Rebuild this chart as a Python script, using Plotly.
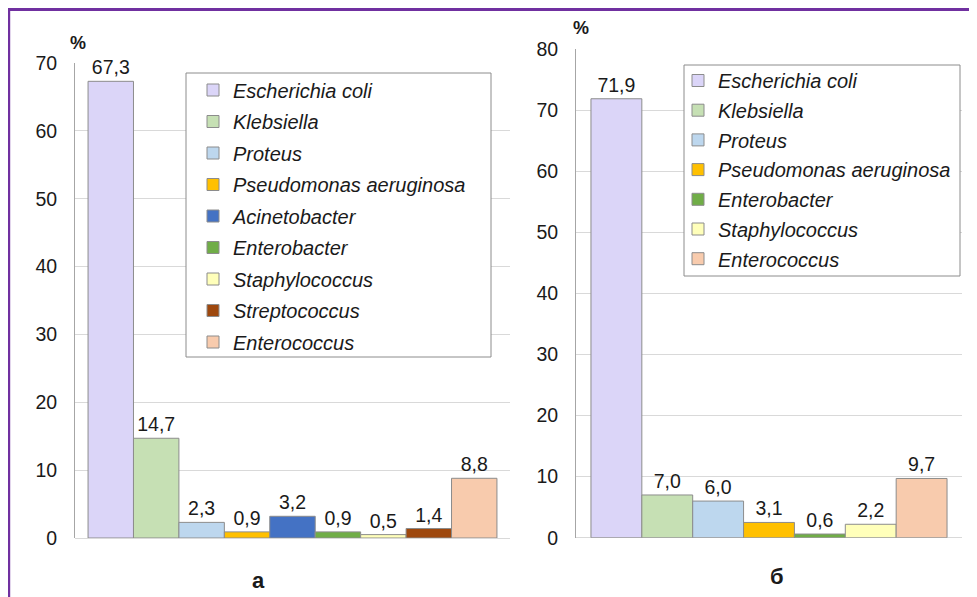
import plotly.graph_objects as go

# The page body has an 8px margin, so the figure is drawn 8px in and 8px down.
OFF = 8
W, H = 977 - OFF, 597 - OFF


def px(x):  # screen x pixel -> paper fraction
    return (x - OFF) / W


def py(y):  # screen y pixel -> paper fraction
    return (597 - y) / H


# ---- data ----
species_a = ["Escherichia coli", "Klebsiella", "Proteus", "Pseudomonas aeruginosa",
             "Acinetobacter", "Enterobacter", "Staphylococcus", "Streptococcus", "Enterococcus"]
values_a = [67.3, 14.7, 2.3, 0.9, 3.2, 0.9, 0.5, 1.4, 8.8]
labels_a = ["67,3", "14,7", "2,3", "0,9", "3,2", "0,9", "0,5", "1,4", "8,8"]

species_b = ["Escherichia coli", "Klebsiella", "Proteus", "Pseudomonas aeruginosa",
             "Enterobacter", "Staphylococcus", "Enterococcus"]
values_b = [71.9, 7.0, 6.0, 2.5, 0.6, 2.2, 9.7]
labels_b = ["71,9", "7,0", "6,0", "3,1", "0,6", "2,2", "9,7"]

colors = {
    "Escherichia coli": "#DBD5F8",
    "Klebsiella": "#C6E0B4",
    "Proteus": "#BDD7EE",
    "Pseudomonas aeruginosa": "#FFC000",
    "Acinetobacter": "#4472C4",
    "Enterobacter": "#70AD47",
    "Staphylococcus": "#FFFFBA",
    "Streptococcus": "#9E480E",
    "Enterococcus": "#F8CBAD",
}

panel_a_cat = ["а"]
panel_b_cat = ["б"]

FONT = "Liberation Sans, Arial, sans-serif"
TXT = "#1a1a1a"
EDGE = "#8C8C8C"
GRID = "#D9D9D9"

fig = go.Figure()

for name, v, lab in zip(species_a, values_a, labels_a):
    fig.add_trace(go.Bar(
        x=panel_a_cat, y=[v], name=name, text=[lab], textposition="outside",
        textfont=dict(size=19.5, color=TXT, family=FONT), cliponaxis=False,
        constraintext="none",
        marker=dict(color=colors[name], line=dict(color=EDGE, width=1)),
        xaxis="x", yaxis="y", legend="legend", legendgroup="a_" + name,
    ))

for name, v, lab in zip(species_b, values_b, labels_b):
    fig.add_trace(go.Bar(
        x=panel_b_cat, y=[v], name=name, text=[lab], textposition="outside",
        textfont=dict(size=19.5, color=TXT, family=FONT), cliponaxis=False,
        constraintext="none",
        marker=dict(color=colors[name], line=dict(color=EDGE, width=1)),
        xaxis="x2", yaxis="y2", legend="legend2", legendgroup="b_" + name,
    ))

yax_common = dict(
    showline=True, linecolor="#A6A6A6", linewidth=1,
    showgrid=True, gridcolor=GRID, gridwidth=1,
    zeroline=True, zerolinecolor=GRID, zerolinewidth=1,
    dtick=10, ticks="", ticklabelstandoff=13,
    tickfont=dict(size=19.5, color=TXT, family=FONT), fixedrange=True,
)
xax_common = dict(type="category", showticklabels=False, showgrid=False,
                  zeroline=False, showline=False, fixedrange=True)

legend_common = dict(
    bgcolor="rgba(0,0,0,0)", borderwidth=0,
    font=dict(size=20, color=TXT, family=FONT, style="italic"),
    xanchor="left", yanchor="top", traceorder="grouped",
)


def label(text, x, y, size):
    return dict(text=f"<b>{text}</b>", x=px(x), y=py(y), xref="paper", yref="paper",
                xanchor="center", yanchor="middle", showarrow=False,
                font=dict(size=size, color=TXT, family=FONT))


fig.update_layout(
    width=W, height=H,
    margin=dict(l=0, r=0, t=0, b=0, autoexpand=False),
    paper_bgcolor="white", plot_bgcolor="white",
    barmode="group", bargap=0.06, bargroupgap=0,
    font=dict(family=FONT, color=TXT),
    xaxis=dict(domain=[px(75), px(510)], range=[-0.5, 0.5], anchor="y", **xax_common),
    yaxis=dict(domain=[py(538), py(63)], range=[0, 70], anchor="x", **yax_common),
    xaxis2=dict(domain=[px(576), px(962)], range=[-0.5095, 0.5095], anchor="y2", **xax_common),
    yaxis2=dict(domain=[py(537.7), py(49.3)], range=[0, 80], anchor="x2", **yax_common),
    legend=dict(x=px(193), y=py(70.5), tracegroupgap=2.5, **legend_common),
    legend2=dict(x=px(678), y=py(61), tracegroupgap=0.7, **legend_common),
    shapes=[
        # legend frames
        dict(type="rect", xref="paper", yref="paper", layer="above",
             x0=px(186), x1=px(491), y0=py(357), y1=py(73),
             line=dict(color=EDGE, width=1), fillcolor="white"),
        dict(type="rect", xref="paper", yref="paper", layer="above",
             x0=px(684), x1=px(960), y0=py(276), y1=py(65),
             line=dict(color=EDGE, width=1), fillcolor="white"),
        # purple frame (left and top edges)
        dict(type="path", xref="paper", yref="paper", layer="above",
             path=f"M {px(8.7)},{py(620)} L {px(8.7)},{py(9.5)} L {px(990)},{py(9.5)}",
             line=dict(color="#7030A0", width=3)),
    ],
    annotations=[
        label("%", 78, 42.5, 18),
        label("%", 581, 28, 18),
        label("а", 258, 580, 22),
        label("б", 777, 576, 22),
    ],
)

fig.write_html("out.html")
